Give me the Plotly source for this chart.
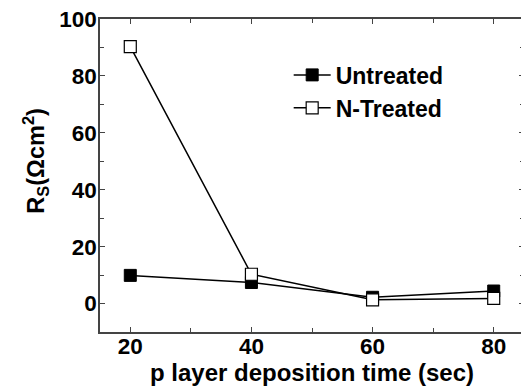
import plotly.graph_objects as go

time_sec = [20, 40, 60, 80]
untreated = [9.9, 7.4, 2.2, 4.4]
n_treated = [90.3, 10.3, 1.3, 1.8]

x_ticks = [20, 40, 60, 80]
y_ticks = [0, 20, 40, 60, 80, 100]

FONT = "Liberation Sans, Arial, sans-serif"

fig = go.Figure()
fig.add_trace(go.Scatter(
    x=time_sec, y=untreated, name="<b>Untreated</b>", mode="lines+markers",
    line=dict(color="black", width=1.5),
    marker=dict(symbol="square", size=12, color="black", line=dict(color="black", width=1)),
))
fig.add_trace(go.Scatter(
    x=time_sec, y=n_treated, name="<b>N-Treated</b>", mode="lines+markers",
    line=dict(color="black", width=1.5),
    marker=dict(symbol="square", size=12, color="white", line=dict(color="black", width=1.2)),
))

axis_common = dict(
    showline=True, linecolor="#444", linewidth=1.5, mirror="ticks",
    ticks="inside", ticklen=5, tickwidth=1, tickcolor="#444",
    showgrid=False, zeroline=False, automargin=False,
    ticklabeloverflow="allow",
    tickfont=dict(family=FONT, size=22.5, color="black"),
    minor=dict(ticks="inside", ticklen=4, tickwidth=1, tickcolor="#444", showgrid=False),
)

fig.update_xaxes(
    range=[15, 85], tickvals=x_ticks, ticktext=[f"<b>{v}</b>" for v in x_ticks],
    minor_dtick=10, minor_tick0=0, ticklabelstandoff=-7,
    title=dict(text="<b>p layer deposition time (sec)</b>", font=dict(family=FONT, size=24, color="black"), standoff=0),
    **axis_common,
)
fig.update_yaxes(
    range=[-10, 100], tickvals=y_ticks, ticktext=[f"<b>{v}</b>" for v in y_ticks],
    minor_dtick=10, minor_tick0=0, ticklabelstandoff=-3,
    **axis_common,
)

fig.add_annotation(
    text="<b>R<sub>S</sub>(Ωcm<sup>2</sup>)</b>", textangle=-90,
    xref="paper", yref="paper", x=-0.152, y=0.546, xanchor="center", yanchor="middle",
    showarrow=False, font=dict(family=FONT, size=23.5, color="black"),
)

# page body has an 8px default margin; compensate so the plot area lands at x 100-524, y 19-332
fig.update_layout(
    width=521, height=384,
    margin=dict(l=92, r=5, t=11, b=60),
    plot_bgcolor="white", paper_bgcolor="white",
    showlegend=True,
    legend=dict(
        x=0.445, y=0.89, xanchor="left", yanchor="top",
        bgcolor="rgba(0,0,0,0)", borderwidth=0,
        font=dict(family=FONT, size=23, color="black"),
        itemwidth=37, tracegroupgap=0,
    ),
)

fig.write_html("out.html")
